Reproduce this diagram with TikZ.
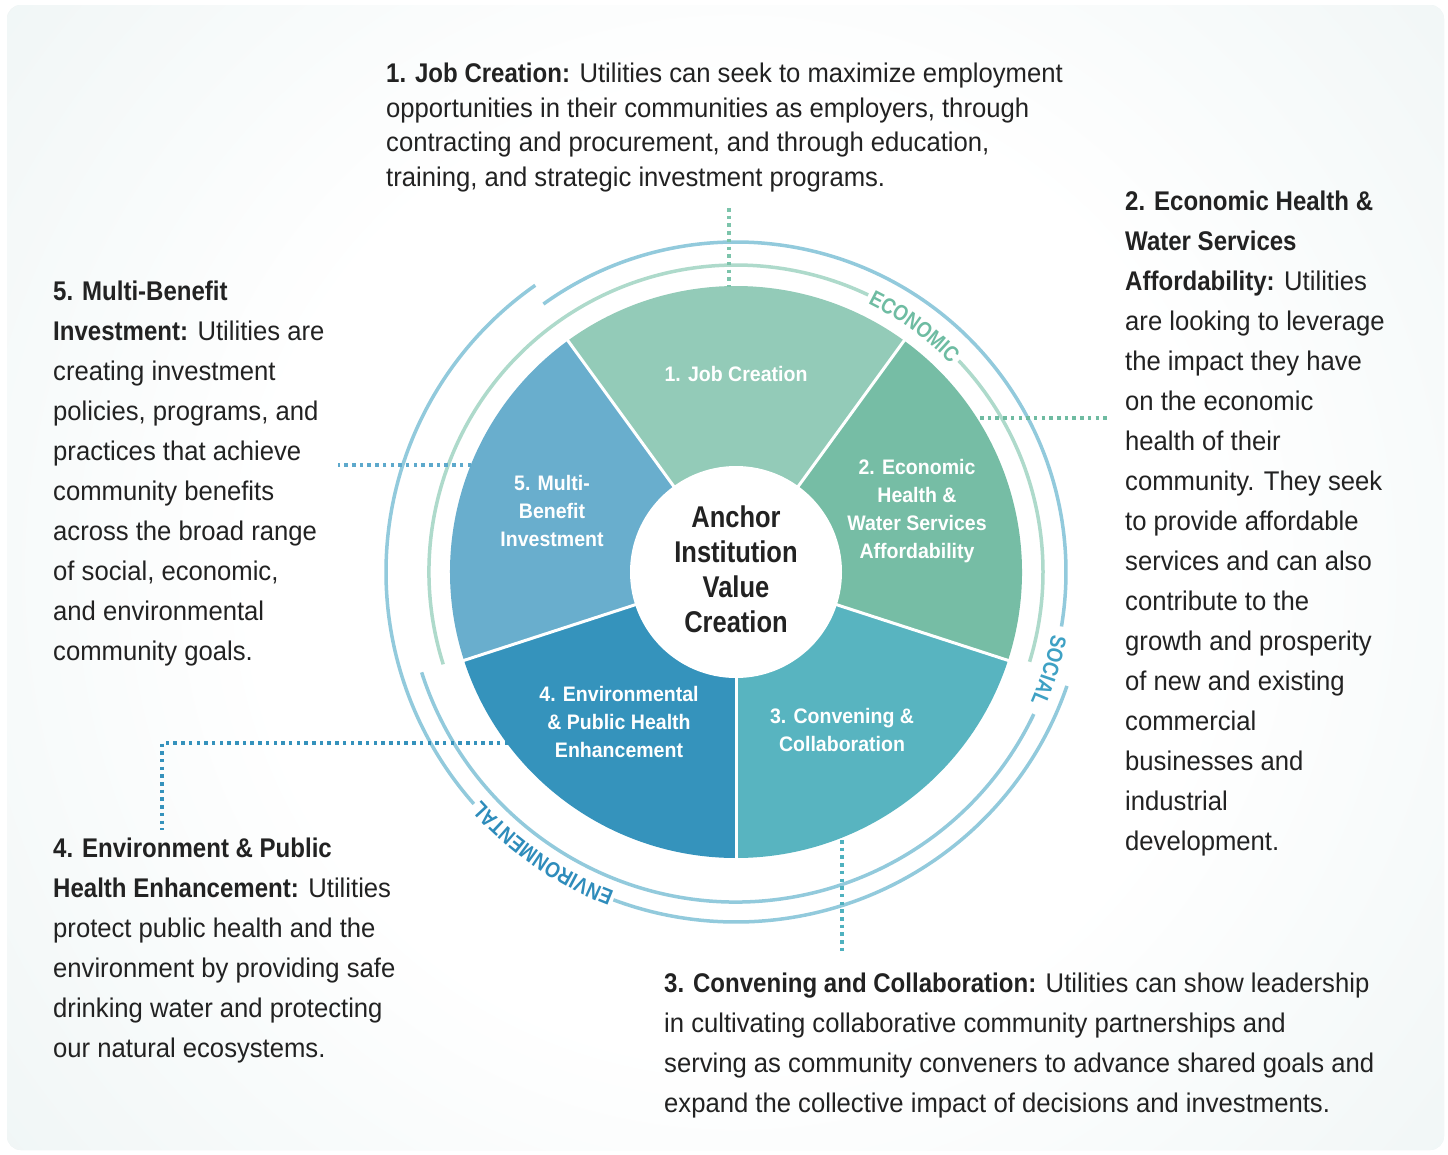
\documentclass[tikz,border=0pt]{standalone}
\usepackage{fontspec}
\setmainfont{Liberation Sans}[UprightFeatures={FakeStretch=0.95}, BoldFeatures={FakeStretch=0.89}]
\newfontfamily\condfont{Liberation Sans}[FakeStretch=0.85]
\newfontfamily\labfont{Liberation Sans}[FakeStretch=0.93]
\usetikzlibrary{decorations.text}
\definecolor{bgc}{HTML}{E8F1F1}
\definecolor{segA}{HTML}{93CBB8}
\definecolor{segB}{HTML}{76BDA5}
\definecolor{segC}{HTML}{58B4C0}
\definecolor{segD}{HTML}{3593BC}
\definecolor{segE}{HTML}{69AECD}
\definecolor{ringmint}{HTML}{AEDACB}
\definecolor{ringblue}{HTML}{92CADC}
\definecolor{econtxt}{HTML}{6EBCA2}
\definecolor{soctxt}{HTML}{3EA1C4}
\definecolor{envtxt}{HTML}{2E8CBB}
\definecolor{txt}{HTML}{222222}
\definecolor{dotA}{HTML}{7CC4AB}
\definecolor{dotB}{HTML}{6FBBA1}
\definecolor{dotE}{HTML}{5DA9CC}
\definecolor{dotD}{HTML}{3592BC}
\definecolor{dotC}{HTML}{4FB1BF}
\pgfdeclareradialshading{bgshade}{\pgfpoint{0bp}{0bp}}{color(0bp)=(white); color(12bp)=(white); color(30bp)=(bgc); color(50bp)=(bgc)}
\newcommand{\ringfont}{\condfont\fontsize{22}{24}\selectfont\bfseries}
\tikzset{
  seglab/.style={text=white, font=\labfont\fontsize{21}{28}\selectfont\bfseries, align=center, inner sep=0},
  bodytext/.style={text=txt, font=\fontsize{27}{40}\selectfont, align=left, inner sep=0, anchor=north west},
  ring/.style={line width=3.5},
  dotline/.style={line width=3.5, dash pattern=on 3.5 off 4.2},
}
\begin{document}
\begin{tikzpicture}[x=1pt,y=1pt]
\useasboundingbox (0,-1154) rectangle (1448,0);
\fill[white] (0,-1154) rectangle (1448,0);
\begin{scope}
\clip[rounded corners=14] (7,-1150) rectangle (1444,-5);
\fill[bgc] (0,-1154) rectangle (1448,0);
\shade[shading=bgshade] (736,-572) circle[radius=1000];
\end{scope}

\coordinate (O) at (736,-572);
% pie segments
\foreach \a/\c in {54/segA, -18/segB, -90/segC, -162/segD, 126/segE}
  \fill[\c] (O) -- ([shift={(\a:286)}]O) arc[start angle=\a, end angle=\a+72, radius=286] -- cycle;
\foreach \a in {54,-18,-90,-162,126}
  \draw[white, line width=3] (O) -- ([shift={(\a:287)}]O);
\node[circle, fill=white, minimum size=212, inner sep=0] (hub) at (O) {};
\node[align=center, text=txt, inner sep=0,
      font=\condfont\fontsize{30}{35}\selectfont\bfseries] (center) at (736,-569) {Anchor\\Institution\\Value\\Creation};

\node[seglab] (l1) at (736,-374) {1. Job Creation};
\node[seglab] (l2) at (917,-511) {2. Economic\\Health \&\\Water Services\\Affordability};
\node[seglab] (l3) at (842,-730) {3. Convening \&\\Collaboration};
\node[seglab] (l4) at (619,-722) {4. Environmental\\\& Public Health\\Enhancement};
\node[seglab] (l5) at (552,-511) {5. Multi-\\Benefit\\Investment};

% rings
\draw[ring, ringmint] ([shift={(197.5:307)}]O) arc[start angle=197.5, end angle=64.5, radius=307];
\draw[ring, ringmint] ([shift={(43.5:307)}]O) arc[start angle=43.5, end angle=-17, radius=307];
\draw[ring, ringblue] ([shift={(125.7:330)}]O) arc[start angle=125.7, end angle=-9.5, radius=330];
\draw[ring, ringblue] ([shift={(-25.5:330)}]O) arc[start angle=-25.5, end angle=-162.3, radius=330];
\draw[ring, ringblue] ([shift={(125:350)}]O) arc[start angle=125, end angle=221.5, radius=350];
\draw[ring, ringblue] ([shift={(249.5:350)}]O) arc[start angle=249.5, end angle=341, radius=350];

\path[decorate, decoration={text along path, text align=center, text={|\ringfont\color{econtxt}|ECONOMIC}}]
  ([shift={(66:299)}]O) arc[start angle=66, end angle=42, radius=299];
\path[decorate, decoration={text along path, text align=center, text={|\ringfont\color{soctxt}|SOCIAL}}]
  ([shift={(-8:322)}]O) arc[start angle=-8, end angle=-27, radius=322];
\path[decorate, decoration={text along path, text align=center, text={|\ringfont\color{envtxt}|ENVIRONMENTAL}}]
  ([shift={(251:342)}]O) arc[start angle=251, end angle=220, radius=342];

% text blocks
\node[bodytext, font=\fontsize{27}{34.5}\selectfont] (t1) at (386,-63)
  {{\bfseries 1. Job Creation:} Utilities can seek to maximize employment\\
   opportunities in their communities as employers, through\\
   contracting and procurement, and through education,\\
   training, and strategic investment programs.};
\node[bodytext] (t2) at (1125,-191)
  {{\bfseries 2. Economic Health \&}\\
   {\bfseries Water Services}\\
   {\bfseries Affordability:} Utilities\\
   are looking to leverage\\
   the impact they have\\
   on the economic\\
   health of their\\
   community. They seek\\
   to provide affordable\\
   services and can also\\
   contribute to the\\
   growth and prosperity\\
   of new and existing\\
   commercial\\
   businesses and\\
   industrial\\
   development.};
\node[bodytext] (t3) at (664,-973)
  {{\bfseries 3. Convening and Collaboration:} Utilities can show leadership\\
   in cultivating collaborative community partnerships and\\
   serving as community conveners to advance shared goals and\\
   expand the collective impact of decisions and investments.};
\node[bodytext] (t4) at (53,-838)
  {{\bfseries 4. Environment \& Public}\\
   {\bfseries Health Enhancement:} Utilities\\
   protect public health and the\\
   environment by providing safe\\
   drinking water and protecting\\
   our natural ecosystems.};
\node[bodytext] (t5) at (53,-281)
  {{\bfseries 5. Multi-Benefit}\\
   {\bfseries Investment:} Utilities are\\
   creating investment\\
   policies, programs, and\\
   practices that achieve\\
   community benefits\\
   across the broad range\\
   of social, economic,\\
   and environmental\\
   community goals.};

% connectors
\coordinate (c1a) at (729,-208); \coordinate (c1b) at (729,-287);
\coordinate (c2a) at (980,-418); \coordinate (c2b) at (1107,-418);
\coordinate (c5a) at (471,-465); \coordinate (c5b) at (338,-465);
\coordinate (c4a) at (508,-743); \coordinate (c4b) at (162,-830);
\coordinate (c3a) at (842,-840); \coordinate (c3b) at (842,-952);
\draw[dotline, dotA] (c1a) -- (c1b);
\draw[dotline, dotB] (c2a) -- (c2b);
\draw[dotline, dotE] (c5a) -- (c5b);
\draw[dotline, dotD] (c4a) -| (c4b);
\draw[dotline, dotC] (c3a) -- (c3b);
\end{tikzpicture}
\end{document}
